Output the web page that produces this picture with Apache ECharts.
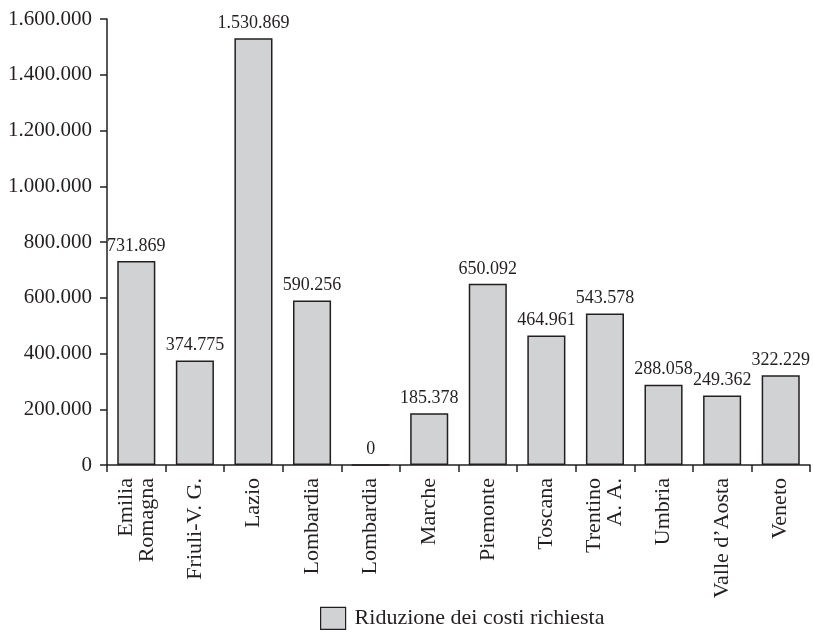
<!DOCTYPE html>
<html>
<head>
<meta charset="utf-8">
<script src="https://cdn.jsdelivr.net/npm/echarts@6/dist/echarts.min.js"></script>
<style>
  html, body { margin: 0; padding: 0; background: #fff; }
  #chart { width: 813px; height: 635px; }
</style>
</head>
<body>
<div id="chart"></div>
<script>
const regions = ['Emilia\nRomagna', 'Friuli-V. G.', 'Lazio', 'Lombardia', 'Lombardia', 'Marche',
  'Piemonte', 'Toscana', 'Trentino\nA. A.', 'Umbria', "Valle d\u2019Aosta", 'Veneto'];
const riduzione = [731869, 374775, 1530869, 590256, 0, 185378, 650092, 464961, 543578, 288058, 249362, 322229];
const seriesName = 'Riduzione dei costi richiesta';

// 1234567 -> "1.234.567"
const fmt = v => String(Math.round(v)).replace(/\B(?=(\d{3})+(?!\d))/g, '.');

const font = 'Liberation Serif';
const ink = '#231f20';

const myChart = echarts.init(document.getElementById('chart'));
myChart.setOption({
  animation: false,
  textStyle: { fontFamily: font, color: ink },
  grid: { left: 107, right: 3, top: 19, bottom: 170, containLabel: false },
  legend: {
    bottom: 0,
    left: 315,
    itemWidth: 25,
    itemHeight: 22,
    itemGap: 10,
    textStyle: { fontFamily: font, fontSize: 22, color: ink, padding: [0, 0, 0, 4] },
    data: [{ name: seriesName, icon: 'rect', itemStyle: { borderWidth: 1.2 } }]
  },
  xAxis: {
    type: 'category',
    data: regions,
    axisLine: { lineStyle: { color: ink, width: 1.5 } },
    axisTick: { show: true, length: 7, lineStyle: { color: ink, width: 1.5 } },
    axisLabel: {
      rotate: 90,
      interval: 0,
      margin: 13,
      fontFamily: font,
      fontSize: 22,
      color: ink,
      lineHeight: 21
    }
  },
  yAxis: {
    type: 'value',
    min: 0,
    max: 1600000,
    interval: 200000,
    splitLine: { show: false },
    axisLine: { show: true, lineStyle: { color: ink, width: 1.5 } },
    axisTick: { show: true, length: 7, lineStyle: { color: ink, width: 1.5 } },
    axisLabel: { formatter: fmt, margin: 15, fontFamily: font, fontSize: 21, color: ink }
  },
  series: [{
    name: seriesName,
    type: 'bar',
    data: riduzione,
    barCategoryGap: '35%',
    itemStyle: { color: '#d1d2d4', borderColor: ink, borderWidth: 1.5 },
    label: {
      show: true,
      position: 'top',
      distance: 6,
      formatter: p => fmt(p.value),
      fontFamily: font,
      fontSize: 18,
      color: ink
    }
  }]
});
</script>
</body>
</html>
